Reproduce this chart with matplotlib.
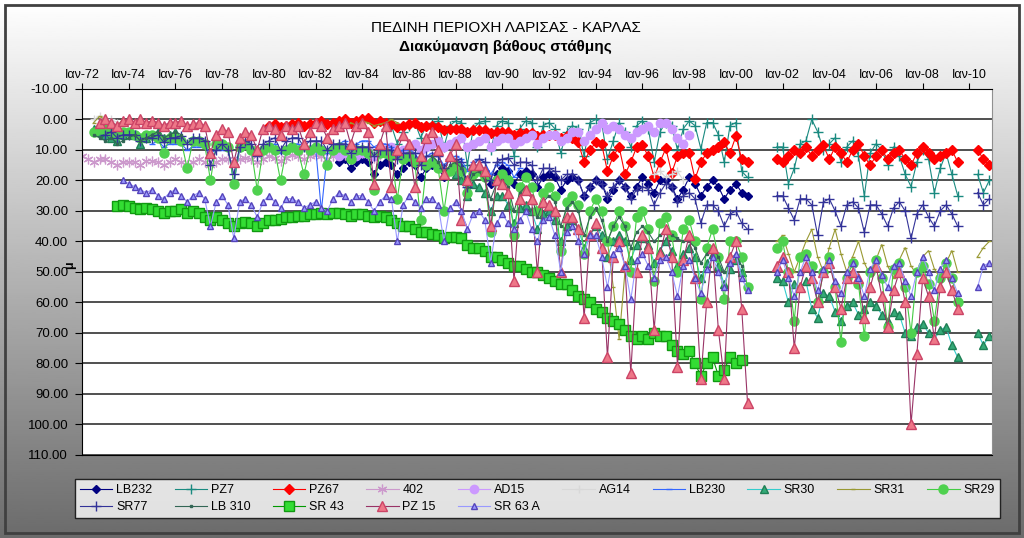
import numpy as np
import matplotlib.pyplot as plt
from matplotlib.patches import Rectangle

plt.rcParams['font.family'] = ['Liberation Sans', 'DejaVu Sans']

title_1 = "ΠΕΔΙΝΗ ΠΕΡΙΟΧΗ ΛΑΡΙΣΑΣ - ΚΑΡΛΑΣ"
title_2 = "Διακύμανση βάθους στάθμης"
ylabel = "μ"

tick_years = list(range(1972, 2011, 2))
tick_labels = ["Ιαν-%02d" % (y % 100) for y in tick_years]
y_ticks = list(range(-10, 111, 10))

# each well: list of segments (first quarter as decimal year, quarterly depth values in m)
LB232 = [(1983.0, [14, 13, 16, 14, 13, 14, 18, 15, 14, 15, 18, 16, 14, 15, 19, 16,
                   15, 16, 19, 17, 15, 16, 20, 17, 16, 17, 21, 18, 16, 17, 21, 18,
                   17, 18, 22, 19, 18, 19, 23, 20, 19, 20, 25, 22, 20, 21, 26, 23,
                   20, 22, 25, 22, 19, 21, 24, 20, 20, 22, 26, 23, 19, 21, 25, 22,
                   20, 22, 26, 23, 21, 24, 25])]

PZ7 = [(1985.0, [3, 2, 8, 4, 2, 1, 6, 2, 1, 0.5, 9, 2, 0.5, 1, 15, 3,
                 1, 0.5, 10, 2, 0.5, 1, 12, 3, 0.5, 1, 9, 2, 1, 3, 11, 4,
                 2, 3, 12, 1, 0, 1, 13, 7, 1, 4, 9, 2, 0.5, 3, 14, 4,
                 1, 2, 10, 3, 0.5, 2, 9.6, 1, 1, 5, 14, 2, 1, 17, 19]),
       (2001.75, [9, 9, 21, 16, 8, 7, 0, 4, 10, 8, 6, 14, 9, 7, 12, 25, 11,
                  8, 10, 15, 9, 12, 18, 22, 14, 10, 13, 24, 16, 11, 18, 25]),
       (2010.35, [18, 24, 20])]

PZ67 = [(1980.0, [2, 1.5, 2.5, 2, 1.5, 1, 2, 1.5, 1, 0.5, 1.5, 1, 0.5, 0, 1, 0.5,
                  0, -0.5, 1, 0.5, 1, 1.5, 2.5, 2, 1.5, 1, 2.5, 2, 2, 2.5, 3.5, 3,
                  3, 3, 4, 3.5, 3.5, 3.5, 4.5, 4, 4, 4, 5, 4.5, 4.5, 4.5, 5.5, 5,
                  5, 5, 6, 5.5, 6, 7.5, 14, 10, 7.5, 8, 17, 12, 9, 18, 14, 9,
                  8.5, 12, 19, 14, 9.5, 17.5, 12, 11, 11, 19.5, 14, 11, 10, 9, 7.5, 11,
                  5.5, 13, 14]),
        (2001.75, [13, 14, 12, 10, 11, 9, 12, 10, 8.5, 13, 9, 11, 14, 10, 8, 12, 15,
                   12, 10, 13, 11, 10, 13, 15, 11, 9, 11, 13, 12, 11, 10, 14]),
        (2010.35, [10, 13, 15])]

W402 = [(1972.0, [12, 13, 14, 13, 13, 14, 15, 14, 14, 14, 15, 13.5, 13.5, 14, 15, 14,
                  13, 14, 15, 14, 13, 14, 15, 14, 13, 13, 14, 13, 12.5, 13, 14, 13,
                  12, 12.5, 13.5, 12.5, 11.5, 12, 13, 12, 11.5, 12, 13, 12,
                  11, 11.5, 12.5, 11.5, 11, 11.5, 12.5, 11.5, 10.5, 11, 12, 11, 11])]

AD15 = [(1983.0, [12, 11, 13, 12, 11, 10, 12, 11, 10, 9, 11, 10, 9, 8, 10, 9,
                  8, 7, 9, 8, 7, 6, 9, 8, 7, 6, 9, 7, 6, 6, 8, 7,
                  6, 5, 8, 6, 5, 5, 7, 6, 4, 4, 7, 5, 3, 1, 3, 2,
                  3, 5, 6, 4, 3, 2, 4, 1, 1, 3, 6, 8, 5])]

AG14 = [(1972.5, [0, -1, 0.5, 0, 1]),
        (1996.5, [18, 17, 19, 18, 17, 20])]

LB230 = [(1975.0, [8, 7, 9, 8, 8, 8, 10, 9, 9, 9, 11, 10, 10, 9, 21, 10,
                   9, 9, 11, 10, 9, 8, 11, 9, 8, 8, 10, 9, 9, 30, 11, 9,
                   8, 7, 10, 8, 7, 7, 9, 8, 8, 9, 12, 10, 10, 11, 14, 12,
                   11, 12, 15, 13, 12, 13, 17, 14, 13, 14, 18, 15, 14, 15, 19, 16])]

SR30 = [(1972.5, [3, 4, 5, 6, 7, 5, 4, 5, 8, 6, 5, 4, 6, 5, 4]),
        (1988.0, [18, 20, 25, 21, 22, 24, 30, 25, 25, 28, 34, 29, 28, 30, 36, 31,
                  30, 33, 40, 35, 33, 36, 42, 38, 35, 38, 45, 40, 38, 40, 46, 41,
                  39, 41, 47, 43, 40, 43, 48, 44, 42, 45, 52, 47, 44, 48, 54, 49,
                  46, 50]),
        (2001.75, [52, 53, 60, 54, 55, 53, 62, 65, 57, 58, 63, 66, 61, 60, 64, 62, 60,
                   61, 64, 66, 63, 64, 70, 71, 68, 67, 70, 72, 69, 68, 74, 78]),
        (2010.35, [70, 74, 71])]

SR31 = [(1972.5, [1, -1, 0, 1, 2, 0, 1, 1.5, 0.5]),
        (1983.5, [1, 2, 0.5, 1, 2, 1.5, 1, 0, 1]),
        (1994.5, [40, 55, 72, 50, 42]),
        (2001.75, [40, 38, 44, 50, 45, 40, 36, 45, 50, 42, 36, 44, 50, 45, 40, 47, 51,
                   46, 41, 48, 52, 46, 42, 48, 51, 45, 43, 49, 52, 47, 43, 50]),
        (2010.35, [45, 42, 40])]

SR29 = [(1972.5, [4, 3, 3, 4, 5, 4, 4, 5, 6, 5, 5, 6, 11, 6, 6, 7, 16, 7,
                  7, 8, 20, 8, 8, 9, 21, 9, 8, 10, 23, 10, 9, 10, 20, 10,
                  9, 10, 18, 10, 9, 10, 15, 10, 9, 10, 13, 10, 10, 11, 23, 11,
                  11, 12, 26, 13, 12, 14, 33, 15, 14, 16, 30, 17, 15, 17, 24, 18,
                  17, 19, 37, 20, 18, 20, 38, 22, 19, 22, 30, 24, 22, 25, 43, 27,
                  25, 28, 44, 30, 26, 30, 40, 35, 30, 35, 50, 32, 30, 36, 53, 34,
                  32, 38, 50, 36, 33, 40, 59, 42, 36, 45, 59, 40, 40, 45, 55]),
        (2001.75, [42, 40, 50, 66, 45, 44, 48, 60, 50, 45, 55, 73, 52, 47, 54, 71, 50,
                   46, 52, 68, 49, 47, 55, 70, 50, 48, 54, 66, 52, 47, 52, 60])]

SR77 = [(1973.0, [5, 4, 6, 5, 5, 5, 7, 6, 6, 5, 7.5, 6, 6, 5.5, 8, 6,
                  6, 7, 15, 10, 8, 10, 18, 9, 7, 8, 12, 8, 7, 6, 10, 7,
                  6, 6, 9, 7, 7, 7, 10, 8, 8, 8, 11, 9, 9, 9, 12, 10,
                  10, 10, 13, 11, 11, 11, 15, 12, 12, 12, 16, 13, 13, 14, 22, 15,
                  13, 14, 20, 14, 13, 12.5, 15, 14, 14, 15, 20, 16, 16, 17, 20, 18,
                  18, 20, 25, 22, 20, 21, 25, 22, 20, 22, 26, 23, 22, 23, 28, 24,
                  21, 22, 27, 25, 24, 26, 34, 28, 28, 30, 35, 31, 30, 34, 36]),
        (2001.75, [25, 25, 29, 33, 26, 26, 28, 38, 27, 26, 30, 35, 28, 27, 29, 37, 28,
                   28, 31, 35, 29, 27, 30, 39, 31, 28, 32, 35, 30, 28, 31, 35]),
        (2010.35, [24, 28, 26])]

LB310 = [(1972.5, [5, 6, 7, 6, 8, 7, 6, 5, 7, 6, 5, 4, 6, 5, 4, 5]),
         (1987.0, [12, 14, 18, 15, 14, 16, 22, 18, 17, 20, 26, 21, 20, 22, 30, 24,
                   22, 25, 32, 27, 25, 27, 35, 29, 27, 30, 38, 32, 29, 33, 40, 35,
                   32, 35, 42, 37, 35, 37, 40, 38, 36, 38, 39, 40, 40, 42, 47, 44,
                   42, 45, 50, 46, 44, 48])]

SR43 = [(1973.5, [28.5, 28, 28.5, 29, 29.5, 29, 29.5, 30, 30.5, 30, 30, 29.5, 30.5, 30,
                  30.5, 32, 33, 32, 33, 34, 35, 34, 33.5, 34, 35, 34, 33, 33, 32.5, 32,
                  32, 31.5, 31.5, 31, 31, 30.5, 31, 30.5, 30.5, 31, 31.5, 31, 31, 31.5, 32, 31.5,
                  32, 33, 34, 35, 35, 36, 37, 37, 37.5, 38, 39, 38.5, 38.5, 39, 41, 42,
                  42, 43, 45, 45, 46, 47, 48, 48, 49, 50, 50, 51, 52, 53, 54, 54,
                  56, 58, 59, 60, 62, 63, 65, 66, 67, 69, 71, 72, 71, 72, 70, 71,
                  71, 74, 76, 77, 76, 80, 84, 80, 78, 84, 82, 78, 80, 79])]

PZ15 = [(1972.75, [1, 0, 1, 2, 0.5, 0, 1, 0, 1, 0.5, 1, 2, 1, 1, 0.5, 2, 1.5,
                   1, 2, 11, 5, 3, 4, 14, 6, 4, 5, 10, 3, 2, 3, 5, 2,
                   3, 2, 8, 4, 1, 2, 6, 3, 2, 1, 8, 2, 1, 4, 21, 8,
                   2, 22, 10, 5, 8, 22, 12, 6, 4, 10, 18, 12, 8, 33, 20, 15,
                   15, 17, 35, 20, 21, 24, 53, 26, 23, 26, 50, 27, 28, 30, 50, 32,
                   32, 36, 65, 38, 34, 42, 78, 45, 40, 48, 83, 50, 38, 42, 69, 44,
                   36, 45, 81, 46, 38, 52, 85, 60, 42, 69, 85, 45, 40, 62, 93]),
        (2001.75, [48, 45, 50, 75, 55, 48, 52, 60, 50, 47, 55, 62, 52, 50, 52, 65, 55,
                   48, 58, 68, 56, 50, 60, 100, 77, 52, 58, 72, 55, 50, 56, 62])]

SR63A = [(1973.75, [20, 21, 22, 23, 24, 23, 25, 26, 24, 23, 25, 27, 25, 24, 26, 35, 27,
                    25, 28, 39, 27, 26, 28, 32, 27, 25, 27, 29, 26, 26, 27, 29, 28,
                    27, 29, 30, 26, 24, 25, 27, 25, 25, 27, 30, 27, 25, 26, 40, 28,
                    25, 27, 29, 26, 26, 28, 40, 29, 27, 30, 36, 31, 30, 33, 47, 34,
                    31, 34, 36, 33, 30, 36, 40, 33, 32, 38, 50, 37, 35, 40, 44, 38,
                    38, 45, 55, 44, 42, 48, 59, 46, 44, 48, 52, 46, 45, 50, 58, 48,
                    46, 52, 57, 49, 45, 50, 55, 47, 44, 52, 56]),
         (2001.75, [50, 46, 52, 58, 50, 45, 50, 56, 49, 46, 53, 57, 50, 47, 52, 58, 49,
                    46, 51, 55, 48, 47, 53, 58, 50, 45, 50, 56, 49, 46, 52, 57]),
         (2010.35, [55, 48, 47])]

series = [
    ("LB232", LB232, dict(color='#000080', marker='D', ms=4, mfc='#000080', mec='#000080')),
    ("PZ7", PZ7, dict(color='#1a8a80', marker='+', ms=7.5, mew=1.0)),
    ("PZ67", PZ67, dict(color='#ff0000', marker='D', ms=5.5, mfc='#ff0000', mec='#ff0000')),
    ("402", W402, dict(color='#cc99cc', marker=(6, 2, 0), ms=7, mew=0.9)),
    ("AD15", AD15, dict(color='#cc99ff', marker='o', ms=6, mfc='#cc99ff', mec='#cc99ff')),
    ("AG14", AG14, dict(color='#d8d8d8', marker='+', ms=6)),
    ("LB230", LB230, dict(color='#3366ff', marker='_', ms=4)),
    ("SR30", SR30, dict(color='#33cccc', marker='^', ms=5.5, mfc='#33aa77', mec='#1f7f55')),
    ("SR31", SR31, dict(color='#999933', marker='_', ms=3)),
    ("SR29", SR29, dict(color='#44cc44', marker='o', ms=6.5, mfc='#4fd14f', mec='#4fd14f')),
    ("SR77", SR77, dict(color='#333399', marker='+', ms=7.5, mew=1.0)),
    ("LB 310", LB310, dict(color='#336655', marker='s', ms=2)),
    ("SR 43", SR43, dict(color='#009900', marker='s', ms=7, mfc='#33dd33', mec='#119911')),
    ("PZ 15", PZ15, dict(color='#993366', marker='^', ms=6.5, mfc='#ee7788', mec='#cc4466')),
    ("SR 63 A", SR63A, dict(color='#9999ff', marker='^', ms=5, mfc='#9999ff', mec='#5544bb')),
]


def build(segments):
    t, v = [], []
    for start, vals in segments:
        if t:
            t.append(np.nan)
            v.append(np.nan)
        t += [start + 0.25 * i for i in range(len(vals))]
        v += list(vals)
    return np.array(t), np.array(v, dtype=float)


fig = plt.figure(figsize=(10.24, 5.38), dpi=100)

# gradient chart-area background
bg = fig.add_axes([0, 0, 1, 1], zorder=-1)
bg.imshow(np.linspace(1.0, 0.42, 256)[:, None], cmap='gray', vmin=0, vmax=1,
          aspect='auto', extent=[0, 1, 0, 1])
bg.set_axis_off()
fig.patches.append(Rectangle((0.005, 0.009), 0.99, 0.982, transform=fig.transFigure,
                             fill=False, edgecolor='#404040', linewidth=2))

ax = fig.add_axes([0.0801, 0.1543, 0.8887, 0.6803])
ax.set_facecolor('white')

handles = {}
for name, segs, st in series:
    t, v = build(segs)
    line, = ax.plot(t, v, lw=0.8, label=name, **st)
    handles[name] = line

ax.set_xlim(1972.0, 2010.97)
ax.set_ylim(110, -10)
ax.set_yticks(y_ticks)
ax.set_yticklabels(["%.2f" % y for y in y_ticks], fontsize=9.5)
ax.xaxis.tick_top()
ax.set_xticks(tick_years)
ax.set_xticklabels(tick_labels, fontsize=9)
ax.tick_params(axis='x', length=4, pad=2, color='black')
ax.tick_params(axis='y', length=5, pad=5, color='black')
ax.yaxis.grid(True, color='#202020', lw=1.1)
ax.set_axisbelow(True)
for side in ['left', 'top', 'bottom']:
    ax.spines[side].set_color('black')
ax.spines['right'].set_color('#909090')

fig.text(0.494, 0.948, title_1, ha='center', va='center', fontsize=11)
fig.text(0.494, 0.912, title_2, ha='center', va='center', fontsize=11, fontweight='bold')
fig.text(70 / 1024, 1 - 265 / 538, ylabel, rotation=90, ha='center', va='center',
         fontsize=9, fontweight='bold')

order = ["LB232", "SR77", "PZ7", "LB 310", "PZ67", "SR 43", "402", "PZ 15", "AD15",
         "SR 63 A", "AG14", "LB230", "SR30", "SR31", "SR29"]
leg = fig.legend([handles[n] for n in order], order, ncol=10, mode='expand',
                 bbox_to_anchor=(0.0732, 0.0372, 0.903, 0.0967), loc='lower left',
                 fontsize=9, frameon=True, fancybox=False, handlelength=2.6,
                 handletextpad=0.3, borderaxespad=0, columnspacing=0.8,
                 labelspacing=0.4)
leg.get_frame().set_edgecolor('black')
leg.get_frame().set_linewidth(1.0)

fig.savefig('out.png', dpi=100)
